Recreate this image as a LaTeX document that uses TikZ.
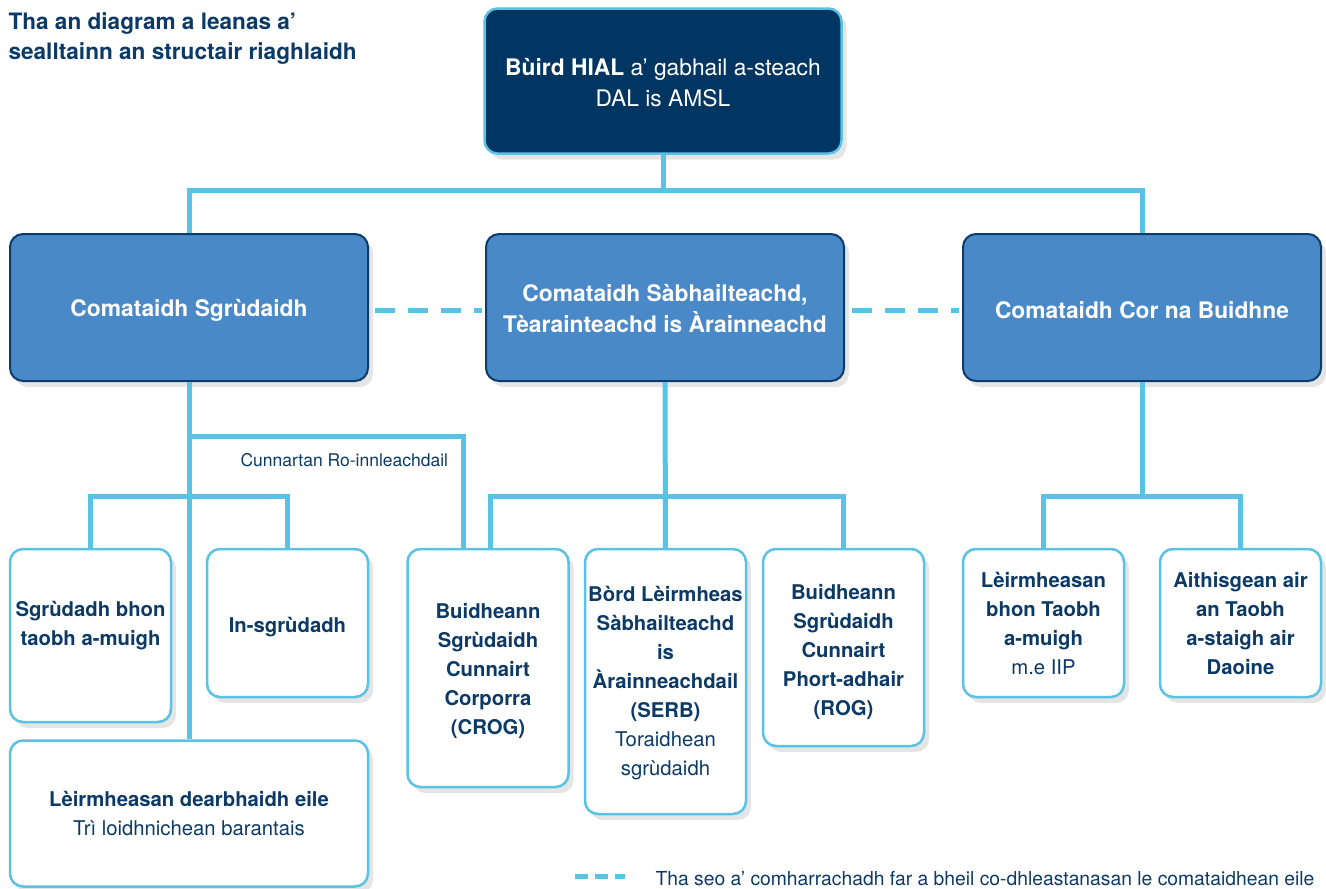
\documentclass[tikz,border=0pt]{standalone}
\usepackage{fontspec}
\setmainfont{TeX Gyre Heros}
\usetikzlibrary{shadows}
\definecolor{navy}{HTML}{003661}
\definecolor{ink}{HTML}{0C3A66}
\definecolor{midblue}{HTML}{4A89C7}
\definecolor{sky}{HTML}{5AC2E4}
\definecolor{edgenavy}{HTML}{0E3C6A}
\tikzset{
  shad/.style={drop shadow={shadow xshift=5pt,shadow yshift=-6pt,opacity=0.10,fill=black}},
  topbox/.style={draw=sky,line width=2.5pt,fill=navy,rounded corners=13pt,shad,
    minimum width=357pt,minimum height=145pt,inner sep=0pt},
  midbox/.style={draw=edgenavy,line width=2pt,fill=midblue,rounded corners=13pt,shad,
    minimum width=358pt,minimum height=147pt,inner sep=0pt},
  wbox/.style={draw=sky,line width=2.5pt,fill=white,rounded corners=13pt,shad,
    minimum width=161pt,inner sep=0pt},
  txt/.style={align=center,text=ink,font=\fontsize{20.3}{29}\selectfont},
  btxt/.style={align=center,text=ink,font=\bfseries\fontsize{20.3}{29}\selectfont},
  wtxt/.style={align=center,text=white,font=\fontsize{22.8}{31}\selectfont},
  wbtxt/.style={align=center,text=white,font=\bfseries\fontsize{22.8}{31}\selectfont},
  conn/.style={draw=sky,line width=5pt},
  dashconn/.style={draw=sky,line width=5pt,dash pattern=on 20pt off 13pt},
}
\begin{document}
\begin{tikzpicture}[x=1pt,y=-1pt]
\useasboundingbox (0,0) rectangle (1326,889);

\node[anchor=west,align=left,text=ink,font=\bfseries\fontsize{22.6}{30}\selectfont] (title) at (5,39)
  {Tha an diagram a leanas a’\\sealltainn an structair riaghlaidh};

% boxes
\node[topbox] (top) at (663,81) {};
\node[wtxt] (topt) at (663,83) {\textbf{Bùird HIAL} a’ gabhail a-steach\\DAL is AMSL};

\node[midbox] (lmid) at (189,307.5) {};
\node[midbox] (cmid) at (665,307.5) {};
\node[midbox] (rmid) at (1142,307.5) {};
\node[wbtxt] (lmidt) at (189,310) {Comataidh Sgrùdaidh};
\node[wbtxt] (cmidt) at (665,309) {Comataidh Sàbhailteachd,\\Tèarainteachd is Àrainneachd};
\node[wbtxt] (rmidt) at (1142,310) {Comataidh Cor na Buidhne};

% coordinates
\coordinate (j1) at (663,190);
\coordinate (jl) at (189,436);
\coordinate (jl2) at (189,496);
\coordinate (jc) at (665,496);
\coordinate (jr) at (1142,496);

% connectors
\draw[conn] (top.south) -- (j1);
\draw[conn] (lmid.north) |- (j1) -| (rmid.north);
\draw[dashconn] (375,310) -- (482,310);
\draw[dashconn] (852,310) -- (959,310);

\node[wbox,minimum height=173pt] (b1) at (90.5,635.5) {};
\node[wbox,minimum height=148pt] (b2) at (287.5,623) {};
\node[wbox,minimum width=358pt,minimum height=146pt] (b3) at (189,813.5) {};
\node[wbox,minimum height=238pt] (crog) at (488,668) {};
\node[wbox,minimum height=265pt] (serb) at (665.5,681.5) {};
\node[wbox,minimum height=197pt] (rog) at (843.5,647.5) {};
\node[wbox,minimum height=148pt] (r1) at (1043.5,623) {};
\node[wbox,minimum height=148pt] (r2) at (1240.5,623) {};

\draw[conn] (lmid.south) -- (b3.north);
\draw[conn] (jl) -| (463,549);
\draw[conn] (b1.north) |- (jl2) -| (b2.north);
\draw[conn] (cmid.south) -- (serb.north);
\draw[conn] (490,549) |- (jc) -| (rog.north);
\draw[conn] (rmid.south) -- (jr);
\draw[conn] (r1.north) |- (jr) -| (r2.north);

\node[anchor=west,text=ink,font=\fontsize{17.5}{20}\selectfont] (risk) at (237,460) {Cunnartan Ro-innleachdail};

\node[btxt] (b1t) at (90.5,626) {Sgrùdadh bhon\\taobh a-muigh};
\node[btxt] (b2t) at (287.5,627) {In-sgrùdadh};
\node[txt] (b3t) at (b3.center) {\textbf{Lèirmheasan dearbhaidh eile}\\Trì loidhnichean barantais};
\node[btxt] (crogt) at (488,671) {Buidheann\\Sgrùdaidh\\Cunnairt\\Corporra\\(CROG)};
\node[txt] (serbt) at (665.5,683) {\textbf{Bòrd Lèirmheas}\\\textbf{Sàbhailteachd}\\\textbf{is}\\\textbf{Àrainneachdail}\\\textbf{(SERB)}\\Toraidhean\\sgrùdaidh};
\node[btxt] (rogt) at (843.5,652) {Buidheann\\Sgrùdaidh\\Cunnairt\\Phort-adhair\\(ROG)};
\node[txt] (r1t) at (1043.5,624) {\textbf{Lèirmheasan}\\\textbf{bhon Taobh}\\\textbf{a-muigh}\\m.e IIP};
\node[btxt] (r2t) at (1240.5,624) {Aithisgean air\\an Taobh\\a-staigh air\\Daoine};

% legend
\coordinate (lg1) at (575,876);
\coordinate (lg2) at (625,876);
\draw[draw=sky,line width=5pt,dash pattern=on 13pt off 7pt] (lg1) -- (lg2);
\node[anchor=west,text=ink,font=\fontsize{19.3}{22}\selectfont] (legend) at (652,879) {Tha seo a’ comharrachadh far a bheil co-dhleastanasan le comataidhean eile};
\end{tikzpicture}
\end{document}
